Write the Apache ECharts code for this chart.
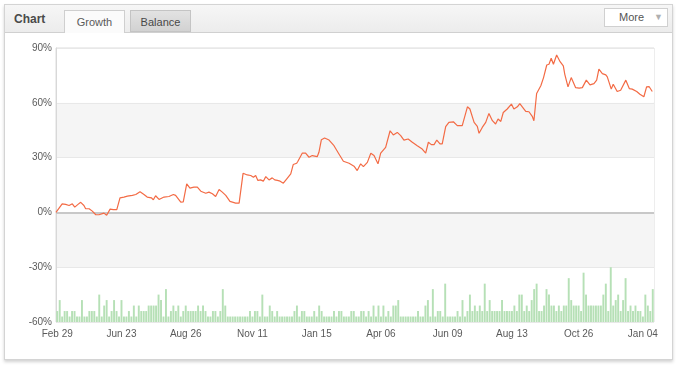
<!DOCTYPE html>
<html><head><meta charset="utf-8">
<script src="https://cdn.jsdelivr.net/npm/echarts@6/dist/echarts.min.js"></script>
<style>
html,body{margin:0;padding:0;width:680px;height:369px;background:#fff;overflow:hidden;font-family:"Liberation Sans",Arial,sans-serif;}
#panel{position:absolute;left:4px;top:4px;width:667px;height:354px;border:1px solid #d4d4d4;background:#fff;box-shadow:0 2px 3px rgba(0,0,0,0.18);}
#head{position:absolute;left:0;top:0;width:667px;height:27px;background:linear-gradient(#f6f6f6,#ececec);border-bottom:1px solid #d0d0d0;}
#title{position:absolute;left:9px;top:7px;font-weight:bold;font-size:12px;color:#4a4a4a;}
.tab{position:absolute;top:5px;height:22px;font-size:11px;text-align:center;line-height:22px;box-sizing:border-box;}
#t1{left:59px;width:61px;height:23px;background:#fbfbfb;border:1px solid #cfcfcf;border-bottom:none;color:#5a5a5a;}
#t2{left:125px;width:61px;background:linear-gradient(#e2e2e2,#d2d2d2);border:1px solid #c4c4c4;color:#484848;}
#more{position:absolute;left:599px;top:3px;width:64px;height:19px;box-sizing:border-box;background:#fff;border:1px solid #d0d0d0;font-size:11px;color:#555;line-height:17px;}
#more span.l{position:absolute;left:14px;}
#more span.a{position:absolute;left:49px;color:#b0b0b0;font-size:9px;}
#chart{position:absolute;left:0;top:0;width:680px;height:369px;}
</style></head>
<body>
<div id="panel"><div id="head"><div id="title">Chart</div><div class="tab" id="t1">Growth</div><div class="tab" id="t2">Balance</div><div id="more"><span class="l">More</span><span class="a">▼</span></div></div></div>
<div id="chart"></div>
<script>
// tick labels on the trading-day axis
var tickLabels = ['Feb 29','Jun 23','Aug 26','Nov 11','Jan 15','Apr 06','Jun 09','Aug 13','Oct 26','Jan 04'];
var tickIndex = [0,26,52,79,105,131,158,184,211,237];
var yTicks = [-60,-30,0,30,60,90];

// daily bar counts (lower green bars)
var barValues = [
2,4,1,2,2,1,2,2,1,1, 4,1,1,2,2,2,1,5,1,3, 4,1,2,4,2,1,4,1,1,2, 1,3,1,3,2,2,2,3,3,3,
3,5,4,1,6,1,2,3,2,3, 1,2,3,2,2,2,2,3,2,3, 2,1,1,2,2,1,2,6,3,1, 1,1,1,1,1,1,1,1,2,
1,2,2,1,5,1,1,3,2,1, 2,1,1,1,1,1,1,2,3,1, 2,2,1,1,1,2,1,3,2,1, 1,1,1,2,1,2,2,1,1,1,
2,2,1,1,2,2,1,2,1,3, 1,3,1,3,1,2,1,3,3,4, 1,1,1,1,1,1,1,2,1,1, 3,4,1,6,1,2,2,1,7,1, 1,
1,1,2,1,4,1,2,5,2,3, 2,3,2,7,2,4,2,2,2,2, 4,2,2,2,2,3,2,5,5,2, 3,2,4,6,7,2,2,3,6,5,
3,3,2,3,2,3,3,8,4,3, 3,3,2,9,5,3,3,3,3,3, 3,5,7,2,10,3,4,5,2,4, 8,2,3,2,3,2,2,1,5,3, 2,6];

// growth line: trading day index and growth %
var growthDay = [0,2.5,3.9,5.3,6.6,7.6,8.9,10,11.3,12,13.4,14.7,16.1,17.4,18.1,19.4,20.5,21.9,23.2,24.6,25.9,27.5,28.9,30.9,32.3,34,35.6,36.9,38.6,39.4,40.3,41.7,43.7,45.7,47.5,48.4,50.5,51.5,52.9,54.2,55.8,57.2,58.6,60.6,61.9,63.3,64.6,66,67.3,68.7,70.4,72.7,74.1,75.7,77.4,78.8,79.9,80.8,81.7,82.8,83.9,84.9,86.2,87.5,88.5,89.6,90.7,91.2,92,93.4,95,96,97.4,97.9,98.7,99.7,101,102.4,103.7,105.7,106.4,107.4,108.7,110.5,112.5,114.5,116.3,118.6,120.6,121.9,123.3,124.4,126,127.4,128.7,130.3,131.4,133.4,135.2,136.5,138.1,139.5,140.8,142.5,144.2,146.2,148.2,149.6,150.7,151.9,153,154.1,155.4,156.3,157.7,159,160.8,162.4,164.4,166.5,167.5,169.2,170.5,171.2,172.5,173.9,175.2,176.6,177.9,178.9,180,181,182.6,184.3,185.3,186.7,187.7,188.7,190.1,191.4,192.8,193.4,194.5,196.2,197.3,198.6,199.5,200.4,201.3,202.6,204,205.3,205.9,207.2,208.5,210.3,211.7,213,214.6,216.1,217.7,218.8,219.7,221.1,222.5,223.1,224.7,225.5,227.1,228.5,230.6,232,233.2,235,236.3,237.9,239,240,241.3];
var growthValue = [0,4.7,4.4,3.8,4.7,2.9,4.4,5.5,3.8,2,2,0.7,-1.3,-1.3,-1.8,-0.4,-1.6,1.8,1.5,1.5,8,8.4,8.9,9.3,9.8,11.3,9.8,8.4,8,6.9,9.1,7.1,8.4,8.7,9.8,9.3,5.6,5.8,15.6,13.3,13.8,13.8,11.6,10.5,11.1,10.2,8.7,12.5,11.1,9.3,6,5.1,5.1,21.4,20.5,20.2,19.3,20.2,17.5,17.8,17.1,19.6,17.8,18.9,17.8,17.5,17.1,17.5,16,18.4,21.1,26.2,26.9,28,27.4,32.5,32.4,30.2,31.1,30.5,32.9,39.8,40.7,39.6,36.5,32,28,26.9,25.3,22.9,26.6,25.1,27.4,32.4,31.1,26.6,32.4,35.6,44.7,42.4,43.8,42,39.6,40.2,38.4,36.5,34.7,32.4,38.4,37.1,37.1,39.6,37.5,37.5,46.9,49.3,49.6,47.5,47.5,57.8,56.6,49.3,47.1,43.3,46.5,49.3,54.2,50.2,48.4,51.1,49.8,54.7,56.6,59.3,56.6,57.8,59.6,57.8,55.3,55.1,52.4,50.2,65.1,69.3,73.8,80.7,81.1,84.4,81.1,86.2,82.5,80.2,75.6,68.7,73.8,68.3,68,68.3,72.4,69.8,70.5,72.4,78.4,76,75.3,74.2,67.5,70.2,66.2,66.9,72.4,67.8,67.5,66.2,64.7,63.3,68.7,68.9,66.2];

var categories = barValues.map(function(_, i){
  var k = tickIndex.indexOf(i);
  return k >= 0 ? tickLabels[k] : '';
});
var linePts = growthDay.map(function(d, i){ return [d, growthValue[i]]; });

var chart = echarts.init(document.getElementById('chart'), null, {renderer:'canvas'});
var font = '"Liberation Sans", Arial, sans-serif';
chart.setOption({
  backgroundColor: 'transparent',
  animation: false,
  grid: {left:56, right:26, top:48, bottom:47, show:true, borderColor:'#dcdcdc', borderWidth:1, backgroundColor:'transparent'},
  xAxis: [{
    type:'category', data:categories, boundaryGap:true,
    axisLine:{show:false}, axisTick:{show:false}, splitLine:{show:false},
    axisLabel:{interval:0, color:'#5a5a5a', fontFamily:font, fontSize:10, margin:7, hideOverlap:false}
  },{
    type:'value', min:0, max:barValues.length, show:false
  }],
  yAxis: [{
    type:'value', min:yTicks[0], max:yTicks[yTicks.length-1], interval:30,
    axisLine:{show:true, lineStyle:{color:'#d8d8d8'}}, axisTick:{show:false},
    axisLabel:{formatter:'{value}%', color:'#5a5a5a', fontFamily:font, fontSize:10, margin:4},
    splitLine:{show:true, lineStyle:{color:'#e8e8e8', width:1}},
    splitArea:{show:true, areaStyle:{color:['#ffffff','#f5f5f5']}}
  },{
    type:'value', min:0, max:50, show:false
  }],
  series: [{
    type:'bar', xAxisIndex:0, yAxisIndex:1, data:barValues,
    barCategoryGap:'22%',
    itemStyle:{color:'#b6e0b6'}
  },{
    type:'line', xAxisIndex:1, yAxisIndex:0, data:linePts,
    showSymbol:false, symbol:'none',
    lineStyle:{color:'#f36b45', width:1.2},
    markLine:{silent:true, symbol:'none', label:{show:false}, animation:false,
      lineStyle:{color:'#c8c8c8', width:2, type:'solid'}, data:[{yAxis:0}]},
    z:5
  }]
});
</script>
</body></html>
